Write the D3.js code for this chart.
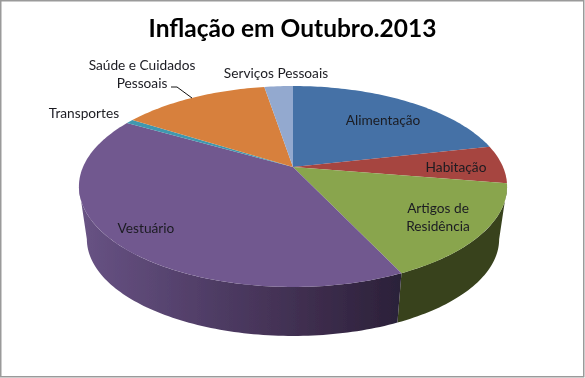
<!DOCTYPE html>
<html>
<head>
<meta charset="utf-8">
<script src="https://cdn.jsdelivr.net/npm/d3@7"></script>
<style>
  html, body { margin: 0; padding: 0; background: #fff; }
  text { font-family: Lato, sans-serif; fill: #1c1c22; }
</style>
</head>
<body>
<div id="chart"></div>
<script>
const categories = ["Alimentação", "Habitação", "Artigos de Residência", "Vestuário", "Transportes", "Saúde e Cuidados Pessoais", "Serviços Pessoais"];
const values = [21.5, 6.1, 15.4, 40.3, 0.7, 13.4, 2.6];
const colors = ["#4471a6", "#a6443f", "#89a54e", "#71588f", "#4198af", "#d7803c", "#93a9cf"];
const wallColors = ["#2a4566", "#662a27", "#39431f", "#71588f", "#26606f", "#8a5126", "#5a6a85"];

// label layout, separate from the values
const labelLines = [["Alimentação"], ["Habitação"], ["Artigos de", "Residência"], ["Vestuário"], ["Transportes"], ["Saúde e Cuidados", "Pessoais"], ["Serviços Pessoais"]];
const labelPos = [[383, 120], [456, 167], [438, 208], [146, 228], [84, 113], [142, 65], [276, 73]];

const width = 585, height = 378;
const depthScale = 0.963;   // lower rim is a bit smaller
const persp = 0.194;
const topRim = {cx: 293, cy: 167, rx: 210, ry: 96.7};
const bottomRim = {cx: 293, cy: 220.4, rx: 210 * depthScale, ry: 96.7 * depthScale};

const svg = d3.select("#chart").append("svg")
  .attr("width", width)
  .attr("height", height)
  .style("display", "block");

const defs = svg.append("defs");
const wallGrad = defs.append("linearGradient")
  .attr("id", "wallVest")
  .attr("gradientUnits", "userSpaceOnUse")
  .attr("x1", 85).attr("x2", 400).attr("y1", 0).attr("y2", 0);
[[0, "#675283"], [0.35, "#523f69"], [0.7, "#3f2e4f"], [1, "#2b2139"]].forEach(s => {
  wallGrad.append("stop").attr("offset", s[0]).attr("stop-color", s[1]);
});
// the reference is a soft screenshot
defs.append("filter").attr("id", "soft")
  .append("feGaussianBlur").attr("stdDeviation", 0.35);

svg.append("rect")
  .attr("x", 0.75).attr("y", 0.75)
  .attr("width", 583).attr("height", 376)
  .attr("fill", "#fff")
  .attr("stroke", "#9a9a9a")
  .attr("stroke-width", 1.5);

const g = svg.append("g").attr("filter", "url(#soft)");

// flat disc with perspective: a is clockwise from 12 o'clock
function project(rim, a) {
  const u = Math.sin(a), v = -Math.cos(a), w = 1 - persp * v;
  return [rim.cx + rim.rx * u / w, rim.cy + rim.ry * v / w];
}
function rimPoints(rim, a0, a1) {
  const n = Math.max(2, Math.ceil(Math.abs(a1 - a0) / 0.02));
  return d3.range(n + 1).map(i => project(rim, a0 + (a1 - a0) * i / n));
}

const pie = d3.pie().sort(null).value(d => d);
const arcs = pie(values);
const line = d3.line();

// only the part of the side between the two silhouette points shows
const frontStart = Math.PI - Math.acos(persp);
const frontEnd = Math.PI + Math.acos(persp);

const walls = arcs.map((d, i) => ({
  i: i,
  a0: Math.max(d.startAngle, frontStart),
  a1: Math.min(d.endAngle, frontEnd)
})).filter(d => d.a1 > d.a0);

g.selectAll(".wall")
  .data(walls)
  .enter()
  .append("path")
  .attr("class", "wall")
  .attr("d", d => line(rimPoints(topRim, d.a0, d.a1).concat(rimPoints(bottomRim, d.a1, d.a0))) + "Z")
  .attr("fill", d => d.i === 3 ? "url(#wallVest)" : wallColors[d.i]);

g.selectAll(".slice")
  .data(arcs)
  .enter()
  .append("path")
  .attr("class", "slice")
  .attr("d", d => line([[topRim.cx, topRim.cy]].concat(rimPoints(topRim, d.startAngle, d.endAngle))) + "Z")
  .attr("fill", (d, i) => colors[i]);

// leader for Saúde e Cuidados Pessoais
g.append("path")
  .attr("d", line([[171, 87], [177, 87], [192, 98]]))
  .attr("fill", "none")
  .attr("stroke", "#111")
  .attr("stroke-width", 1);

g.append("text")
  .attr("x", 292.5)
  .attr("y", 36.5)
  .attr("text-anchor", "middle")
  .attr("font-size", 24.5)
  .attr("font-weight", 700)
  .style("fill", "#000")
  .text("Inflação em Outubro.2013");

categories.forEach((c, i) => {
  labelLines[i].forEach((t, j) => {
    g.append("text")
      .attr("x", labelPos[i][0])
      .attr("y", labelPos[i][1] + j * 18)
      .attr("dy", "0.35em")
      .attr("text-anchor", "middle")
      .attr("font-size", 13.7)
      .text(t);
  });
});
</script>
</body>
</html>
